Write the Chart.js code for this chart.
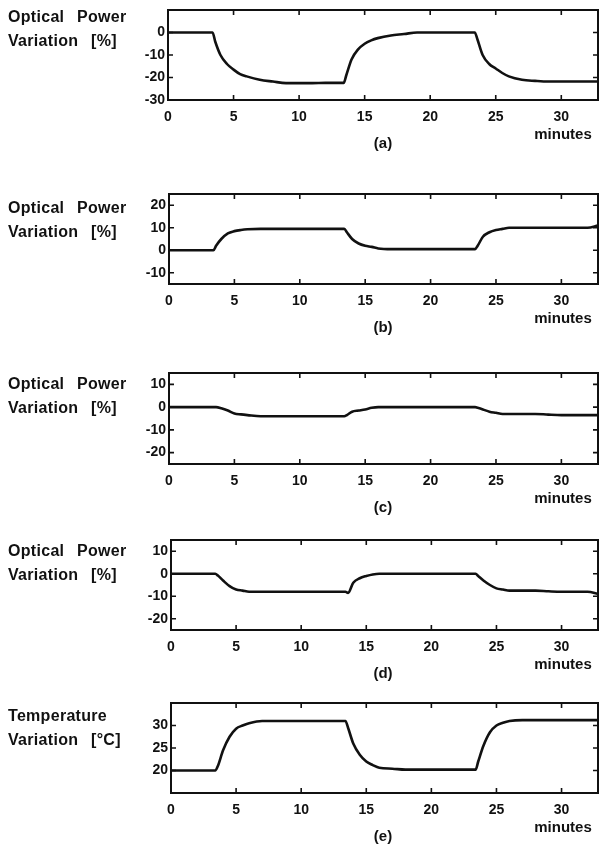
<!DOCTYPE html>
<html>
<head>
<meta charset="utf-8">
<script src="https://cdn.jsdelivr.net/npm/chart.js@4.4.1/dist/chart.umd.min.js"></script>
<style>
  body { margin: 0; background: #fff; width: 602px; height: 853px; position: relative; overflow: hidden; }
  canvas { position: absolute; left: 0; }
  .lbl { position: absolute; font-family: "Liberation Sans", Arial, sans-serif; font-weight: bold; font-size: 15px; color: #111; white-space: pre; line-height: 1; }
  .ylab { left: 8px; font-size: 16px; word-spacing: 8px; letter-spacing: 0.3px; line-height: 24px; }
  .mins { transform: translateX(-50%); }
  .tag { transform: translateX(-50%); }
</style>
</head>
<body>
<script>
// time axis shared by all five traces (minutes)
const minutes = [0, 3.4, 3.6, 4, 4.5, 5, 5.5, 6, 7, 8, 9, 10, 11, 12, 13, 13.4, 13.6, 14, 14.5, 15, 15.5, 16, 17, 18, 19, 20, 21, 22, 23, 23.4, 23.6, 24, 24.5, 25, 25.5, 26, 27, 28, 29, 30, 31, 32, 32.8];

// (a) optical power variation [%]
const powerA = [0, 0, -4, -10, -14, -16.5, -18.5, -19.5, -21, -21.8, -22.5, -22.5, -22.5, -22.4, -22.4, -22.4, -19, -12, -7.5, -5, -3.5, -2.5, -1.3, -0.7, 0, 0, 0, 0, 0, 0, -3, -10, -14, -16, -18, -19.5, -21, -21.5, -21.8, -21.8, -21.8, -21.8, -21.8];
// (b)
const powerB = [0, 0, 2, 5, 7.5, 8.5, 9, 9.3, 9.5, 9.5, 9.5, 9.5, 9.5, 9.5, 9.5, 9.5, 8, 5, 3, 2, 1.5, 0.8, 0.5, 0.5, 0.5, 0.5, 0.5, 0.5, 0.5, 0.5, 2, 6, 8, 9, 9.5, 10, 10, 10, 10, 10, 10, 10, 11];
// (c)
const powerC = [0, 0, 0, -0.5, -1.5, -2.8, -3.2, -3.5, -4, -4, -4, -4, -4, -4, -4, -4, -3.5, -2, -1.5, -1, -0.3, 0, 0, 0, 0, 0, 0, 0, 0, 0, -0.3, -1, -2, -2.5, -3, -3, -3, -3, -3.3, -3.5, -3.5, -3.5, -3.5];
// (d)
const powerD = [0, 0, -0.8, -3, -5.5, -7, -7.5, -8, -8, -8, -8, -8, -8, -8, -8, -8, -8.5, -4, -2, -1, -0.3, 0, 0, 0, 0, 0, 0, 0, 0, 0, -1, -3, -5, -6.5, -7, -7.5, -7.5, -7.5, -7.8, -8, -8, -8, -9];
// (e) temperature variation [°C]
const tempE = [20, 20, 21, 24.5, 27.5, 29.3, 30, 30.5, 31, 31, 31, 31, 31, 31, 31, 31, 29.5, 26, 23.5, 22, 21.2, 20.6, 20.4, 20.2, 20.2, 20.2, 20.2, 20.2, 20.2, 20.2, 22, 25.5, 28.5, 30, 30.6, 31, 31.2, 31.2, 31.2, 31.2, 31.2, 31.2, 31.2];

const xTicks = [0, 5, 10, 15, 20, 25, 30];
const yTicksA = [-30, -20, -10, 0];
const yTicksB = [-10, 0, 10, 20];
const yTicksC = [-20, -10, 0, 10];
const yTicksD = [-20, -10, 0, 10];
const yTicksE = [20, 25, 30];

const panels = [
  { tag: '(a)', label: 'Optical Power\nVariation [%]', data: powerA, ticks: yTicksA, min: -30, max: 10, top: 10, bottom: 100, left: 168, labelY: 17 },
  { tag: '(b)', label: 'Optical Power\nVariation [%]', data: powerB, ticks: yTicksB, min: -15, max: 25, top: 194, bottom: 284, left: 169, labelY: 208 },
  { tag: '(c)', label: 'Optical Power\nVariation [%]', data: powerC, ticks: yTicksC, min: -25, max: 15, top: 373, bottom: 464, left: 169, labelY: 384 },
  { tag: '(d)', label: 'Optical Power\nVariation [%]', data: powerD, ticks: yTicksD, min: -25, max: 15, top: 540, bottom: 630, left: 171, labelY: 551 },
  { tag: '(e)', label: 'Temperature\nVariation [°C]', data: tempE, ticks: yTicksE, min: 15, max: 35, top: 703, bottom: 793, left: 171, labelY: 716 }
];

const RIGHT = 598;
const TOPPAD = 12;
const XAXIS_H = 32;

// frame + inward tick marks on all four sides
const framePlugin = {
  id: 'frame',
  afterDraw(chart) {
    const { ctx, chartArea: a, scales } = chart;
    ctx.save();
    ctx.strokeStyle = '#111';
    ctx.lineWidth = 2;
    ctx.strokeRect(a.left, a.top, a.right - a.left, a.bottom - a.top);
    ctx.lineWidth = 1.6;
    ctx.beginPath();
    scales.x.ticks.forEach(t => {
      const px = scales.x.getPixelForValue(t.value);
      ctx.moveTo(px, a.bottom); ctx.lineTo(px, a.bottom - 5);
      ctx.moveTo(px, a.top); ctx.lineTo(px, a.top + 5);
    });
    scales.y.ticks.forEach(t => {
      const py = scales.y.getPixelForValue(t.value);
      ctx.moveTo(a.left, py); ctx.lineTo(a.left + 5, py);
      ctx.moveTo(a.right, py); ctx.lineTo(a.right - 5, py);
    });
    ctx.stroke();
    ctx.restore();
  }
};

const tickFont = { family: '"Liberation Sans", Arial, sans-serif', size: 14, weight: 'bold' };

panels.forEach(p => {
  const cv = document.createElement('canvas');
  const h = p.bottom - p.top + TOPPAD + XAXIS_H;
  cv.width = 602; cv.height = h;
  cv.style.top = (p.top - TOPPAD) + 'px';
  document.body.appendChild(cv);

  new Chart(cv.getContext('2d'), {
    type: 'line',
    data: {
      labels: minutes,
      datasets: [{
        data: minutes.map((m, i) => ({ x: m, y: p.data[i] })),
        borderColor: '#111',
        borderWidth: 2.6,
        pointRadius: 0,
        cubicInterpolationMode: 'monotone',
        fill: false
      }]
    },
    options: {
      responsive: false,
      animation: false,
      devicePixelRatio: 1,
      layout: { padding: { top: TOPPAD, right: 602 - RIGHT, left: 0, bottom: 0 } },
      plugins: { legend: { display: false }, tooltip: { enabled: false } },
      scales: {
        x: {
          type: 'linear', min: 0, max: 32.8,
          grid: { display: false, drawTicks: false },
          border: { display: false },
          afterBuildTicks: s => { s.ticks = xTicks.map(v => ({ value: v })); },
          afterFit: s => { s.height = XAXIS_H; },
          ticks: { color: '#111', font: tickFont, padding: 9, maxRotation: 0 }
        },
        y: {
          type: 'linear', min: p.min, max: p.max,
          grid: { display: false, drawTicks: false },
          border: { display: false },
          afterBuildTicks: s => { s.ticks = p.ticks.map(v => ({ value: v })); },
          afterFit: s => { s.width = p.left; },
          ticks: { color: '#111', font: tickFont, padding: 3 }
        }
      }
    },
    plugins: [framePlugin]
  });

  const yl = document.createElement('div');
  yl.className = 'lbl ylab';
  yl.style.top = (p.labelY - 12) + 'px';
  yl.textContent = p.label;
  document.body.appendChild(yl);

  const mn = document.createElement('div');
  mn.className = 'lbl mins';
  mn.style.left = '563px';
  mn.style.top = (p.bottom + 26) + 'px';
  mn.textContent = 'minutes';
  document.body.appendChild(mn);

  const tg = document.createElement('div');
  tg.className = 'lbl tag';
  tg.style.left = '383px';
  tg.style.top = (p.bottom + 35) + 'px';
  tg.textContent = p.tag;
  document.body.appendChild(tg);
});
</script>
</body>
</html>
